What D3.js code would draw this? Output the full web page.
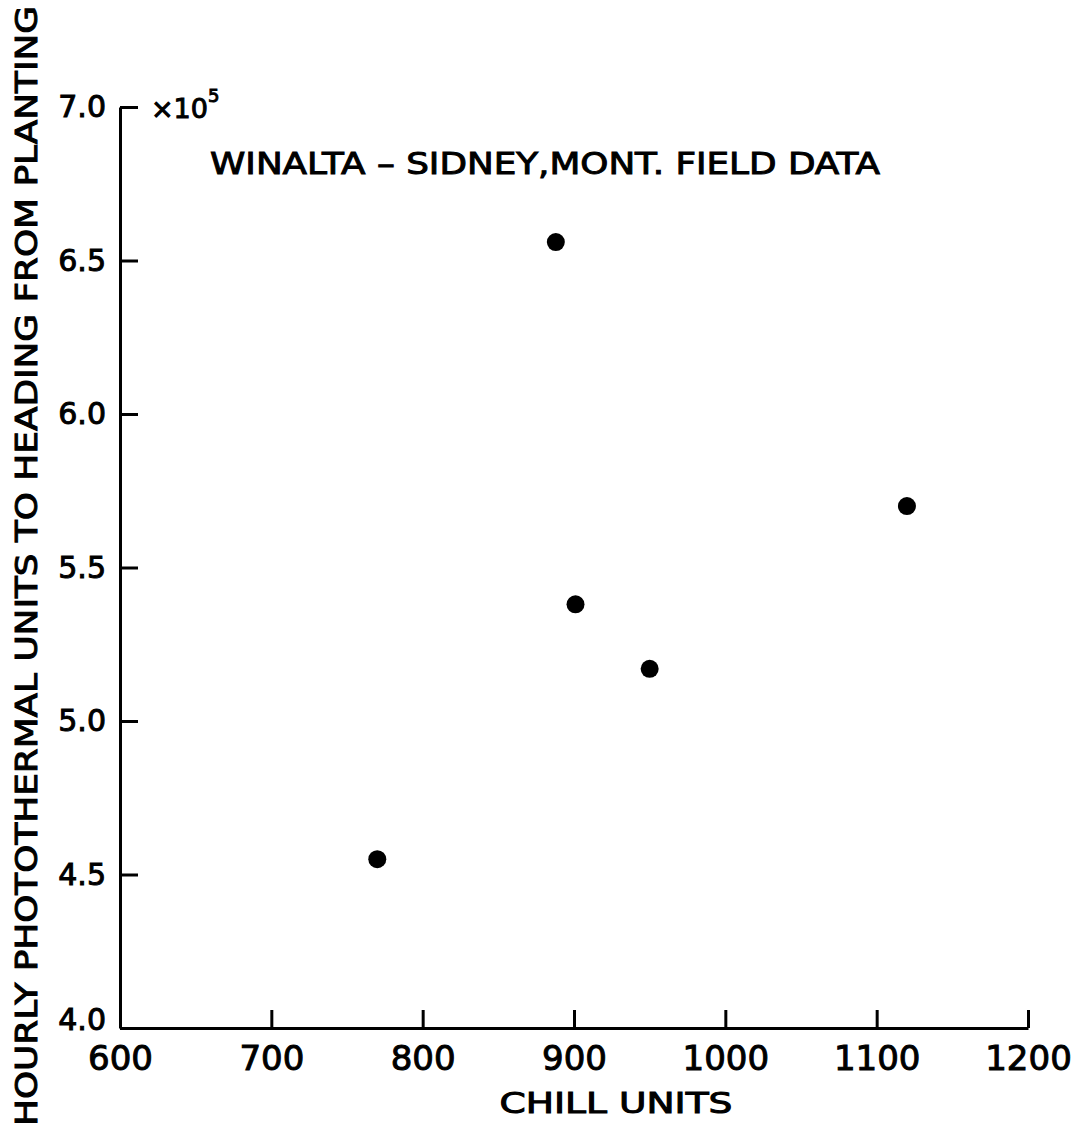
<!DOCTYPE html>
<html>
<head>
<meta charset="utf-8">
<script src="https://cdn.jsdelivr.net/npm/d3@7"></script>
<style>
  body { margin: 0; background: #fff; }
  text { font-family: 'DejaVu Sans', sans-serif; fill: #000; stroke: #000; stroke-width: 1px; }
</style>
</head>
<body>
<div id="chart"></div>
<script>
// chill units vs photothermal units (x10^5)
let chillUnits = [770, 888, 901, 950, 1120]
let photoUnits = [4.55, 6.56, 5.38, 5.17, 5.70]
let xTicks = [600, 700, 800, 900, 1000, 1100, 1200]
let yTicks = [4.0, 4.5, 5.0, 5.5, 6.0, 6.5, 7.0]

let margin = { top: 107, left: 120, right: 46, bottom: 104 }
let width = 1074 - margin.left - margin.right
let height = 1132 - margin.top - margin.bottom

let svg = d3.select('#chart')
  .append('svg')
  .attr('width', 1074)
  .attr('height', 1132)

let g = svg.append('g')
  .attr('transform', 'translate(' + margin.left + ',' + margin.top + ')')

let x = d3.scaleLinear().domain([600, 1200]).range([0, width])
let y = d3.scaleLinear().domain([4.0, 7.0]).range([height, 0])

let xAxis = g.append('g')
  .attr('transform', 'translate(0,' + height + ')')
  .call(d3.axisBottom(x).tickValues(xTicks).tickSizeInner(-18).tickSizeOuter(0).tickPadding(28).tickFormat(d3.format('d')))

let yAxis = g.append('g')
  .call(d3.axisLeft(y).tickValues(yTicks).tickSizeInner(-18).tickSizeOuter(0).tickPadding(32).tickFormat(d3.format('.1f')))

svg.selectAll('.domain, .tick line')
  .attr('stroke', '#000')
  .attr('stroke-width', 3)

xAxis.selectAll('.tick text')
  .attr('font-size', 34)
  .attr('dy', '0.4em')
yAxis.selectAll('.tick text')
  .attr('font-size', 30)
  .attr('x', -14)
  .attr('dy', function(d){ return d == 4.0 ? '0.05em' : '0.32em' })

// dots
g.selectAll('circle')
  .data(chillUnits)
  .enter()
  .append('circle')
  .attr('cx', function(d){ return x(d) })
  .attr('cy', function(d, i){ return y(photoUnits[i]) })
  .attr('r', 9)
  .attr('fill', '#000')

// x10^5 multiplier
let mult = svg.append('text')
  .attr('x', 151)
  .attr('y', 118)
  .attr('font-size', 27)
mult.append('tspan').text('×10')
mult.append('tspan').attr('font-size', 18).attr('dy', -16).text('5')

svg.append('text')
  .attr('x', 210)
  .attr('y', 174)
  .attr('font-size', 31)
  .attr('textLength', 670)
  .attr('lengthAdjust', 'spacingAndGlyphs')
  .text('WINALTA  – SIDNEY,MONT. FIELD DATA')

svg.append('text')
  .attr('x', 616)
  .attr('y', 1113)
  .attr('text-anchor', 'middle')
  .attr('font-size', 29)
  .attr('textLength', 233)
  .attr('lengthAdjust', 'spacingAndGlyphs')
  .text('CHILL  UNITS')

svg.append('text')
  .attr('transform', 'translate(37,566) rotate(-90)')
  .attr('text-anchor', 'middle')
  .attr('font-size', 30)
  .attr('textLength', 1120)
  .attr('lengthAdjust', 'spacingAndGlyphs')
  .text('HOURLY  PHOTOTHERMAL  UNITS  TO  HEADING  FROM  PLANTING')
</script>
</body>
</html>
